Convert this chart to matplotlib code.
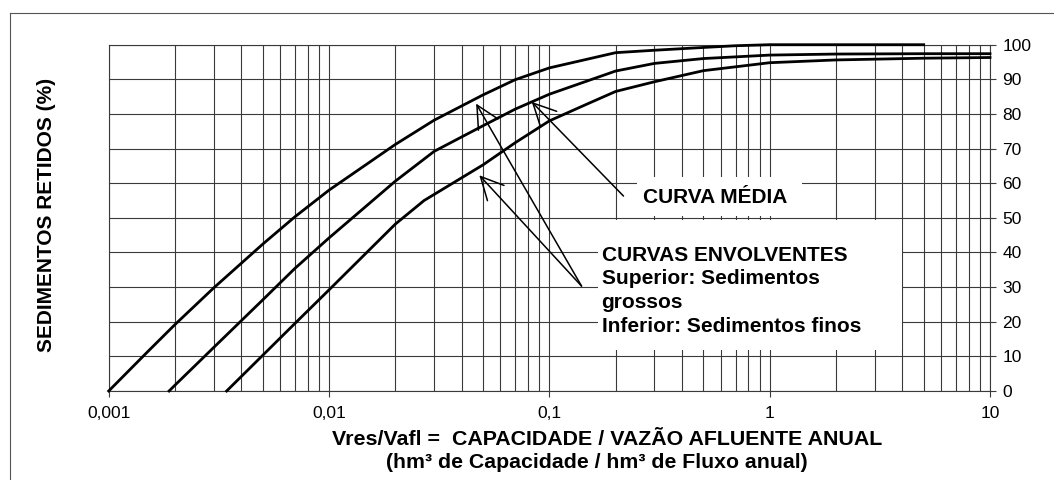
import matplotlib
matplotlib.use("Agg")
import matplotlib.pyplot as plt
from matplotlib.patches import Rectangle
from matplotlib.lines import Line2D
from matplotlib.ticker import FixedLocator, FuncFormatter, LogLocator, NullFormatter

plt.rcParams["font.family"] = ["Liberation Sans", "DejaVu Sans"]

# =========================
# Data
# =========================

# Curva envolvente superior (sedimentos grossos)
x_sup = [0.001, 0.0015, 0.002, 0.003, 0.005, 0.007, 0.01, 0.02, 0.03, 0.05,
         0.07, 0.1, 0.2, 0.3, 0.5, 0.7, 1, 2, 5]
y_sup = [0, 11.3, 19.2, 29.8, 42.4, 50.3, 58.0, 71.2, 78.2, 85.5,
         89.9, 93.3, 97.7, 98.4, 99.2, 99.7, 100, 100, 100]

# Curva media
x_med = [0.00188, 0.002, 0.003, 0.005, 0.007, 0.01, 0.02, 0.03, 0.05, 0.07,
         0.1, 0.2, 0.3, 0.5, 1, 2, 5, 10]
y_med = [0, 1.7, 12.6, 26.3, 35.4, 44.2, 60.6, 69.2, 76.6, 81.4,
         85.7, 92.4, 94.6, 96, 97, 97.3, 97.4, 97.4]

# Curva envolvente inferior (sedimentos finos)
x_inf = [0.00343, 0.005, 0.007, 0.01, 0.02, 0.027, 0.05, 0.07, 0.1, 0.15,
         0.2, 0.3, 0.5, 1, 2, 5, 10]
y_inf = [0, 10.3, 19.5, 29.2, 48.2, 55, 65.3, 71.7, 78.0, 83.0,
         86.5, 89.3, 92.5, 94.8, 95.6, 96.1, 96.3]

x_ticks = [0.001, 0.01, 0.1, 1, 10]
x_tick_labels = ["0,001", "0,01", "0,1", "1", "10"]
y_ticks = list(range(0, 101, 10))

# arrows: (tip on curve, tail near the text)
arrow_media = ((0.0832, 83.5), (0.217, 56.3))
arrows_envolventes = [((0.0465, 83.0), (0.140, 30.3)),
                      ((0.0481, 62.3), (0.140, 30.3))]

W, H = 1054, 480


def fx(px):
    return px / W


def fy(py):
    return 1 - py / H


# =========================
# Figure
# =========================

fig = plt.figure(figsize=(W / 100, H / 100), dpi=100)
ax = fig.add_axes([fx(108.7), fy(391), (990 - 108.7) / W, (391 - 44.7) / H])

grid_col = "#3a3a3a"
ax.set_xscale("log")
ax.set_xlim(0.001, 10)
ax.set_ylim(0, 100)
ax.xaxis.set_major_locator(FixedLocator(x_ticks))
ax.xaxis.set_major_formatter(FuncFormatter(lambda v, p: x_tick_labels[x_ticks.index(v)] if v in x_ticks else ""))
ax.xaxis.set_minor_locator(LogLocator(base=10, subs=range(2, 10)))
ax.xaxis.set_minor_formatter(NullFormatter())
ax.yaxis.set_major_locator(FixedLocator(y_ticks))

ax.grid(True, which="major", axis="both", color=grid_col, lw=0.8)
ax.grid(True, which="minor", axis="x", color=grid_col, lw=0.8)
ax.set_axisbelow(True)

ax.yaxis.tick_right()
ax.tick_params(axis="y", which="major", direction="out", length=4, width=0.8,
               pad=5, labelsize=12.5, color=grid_col)
ax.tick_params(axis="x", which="major", direction="out", length=4, width=0.8,
               pad=7, labelsize=12.5, color=grid_col)
ax.tick_params(axis="x", which="minor", length=0)
for s in ax.spines.values():
    s.set_color(grid_col)
    s.set_linewidth(0.8)

# curves
for xs, ys in [(x_sup, y_sup), (x_med, y_med), (x_inf, y_inf)]:
    ax.plot(xs, ys, color="black", lw=2.0, clip_on=False, zorder=3,
            solid_joinstyle="round")

# white boxes that hide the grid behind the notes
for (x0, y0, x1, y1) in [(637, 177, 802, 216), (598, 220, 902, 350)]:
    fig.patches.append(Rectangle((fx(x0), fy(y1)), (x1 - x0) / W, (y1 - y0) / H,
                                 transform=fig.transFigure, facecolor="white",
                                 edgecolor="none", zorder=2))

# arrows
aprops = dict(arrowstyle="->, head_length=0.9, head_width=0.45", lw=1.1,
              color="black", shrinkA=0, shrinkB=0, mutation_scale=18)
for tip, tail in [arrow_media] + arrows_envolventes:
    ax.annotate("", xy=tip, xytext=tail, arrowprops=aprops, zorder=4)

# notes
fig.text(fx(643), fy(203), "CURVA MÉDIA", fontsize=15, fontweight="bold",
         va="baseline", ha="left", zorder=5)
notes = ["CURVAS ENVOLVENTES", "Superior: Sedimentos", "grossos",
         "Inferior: Sedimentos finos"]
for i, line in enumerate(notes):
    fig.text(fx(601.5), fy(260.7 + i * 23.7), line, fontsize=15,
             fontweight="bold", va="baseline", ha="left", zorder=5)

# axis titles
fig.text(fx(47), fy(215), "SEDIMENTOS RETIDOS (%)", rotation=90, fontsize=15,
         fontweight="bold", ha="center", va="center")
fig.text(fx(607), fy(445), "Vres/Vafl =  CAPACIDADE / VAZÃO AFLUENTE ANUAL",
         fontsize=15.4, fontweight="bold", ha="center", va="baseline")
fig.text(fx(597), fy(467.5), "(hm³ de Capacidade / hm³ de Fluxo anual)",
         fontsize=15.3, fontweight="bold", ha="center", va="baseline")

# outer frame (only left and top edges are visible)
fig.add_artist(Line2D([fx(9.5), fx(9.5)], [fy(H), fy(13)], color="#555555", lw=0.8))
fig.add_artist(Line2D([fx(9.5), fx(W)], [fy(13), fy(13)], color="#555555", lw=0.8))

fig.savefig("out.png", dpi=100)
